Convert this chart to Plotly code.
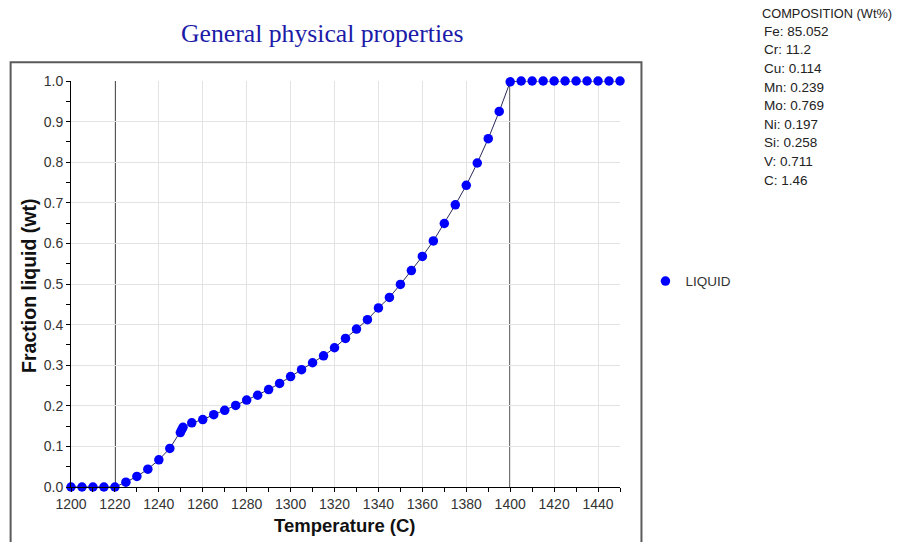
import plotly.graph_objects as go

# ---- data ----
temperature = [1200, 1205, 1210, 1215, 1220, 1225, 1230, 1235, 1240, 1245,
               1249.8, 1250.4, 1251.0, 1255, 1260, 1265, 1270, 1275, 1280, 1285,
               1290, 1295, 1300, 1305, 1310, 1315, 1320, 1325, 1330, 1335,
               1340, 1345, 1350, 1355, 1360, 1365, 1370, 1375, 1380, 1385,
               1390, 1395, 1400, 1405, 1410, 1415, 1420, 1425, 1430, 1435,
               1440, 1445, 1450]
fraction_liquid = [0.0, 0.0, 0.0, 0.0, 0.0, 0.012, 0.026, 0.044, 0.067, 0.095,
                   0.134, 0.141, 0.147, 0.158, 0.166, 0.178, 0.189, 0.201, 0.214, 0.226,
                   0.240, 0.255, 0.272, 0.289, 0.306, 0.323, 0.343, 0.366, 0.389, 0.412,
                   0.441, 0.467, 0.499, 0.533, 0.568, 0.606, 0.649, 0.695, 0.743, 0.798,
                   0.858, 0.925, 0.998, 1.0, 1.0, 1.0, 1.0, 1.0, 1.0, 1.0,
                   1.0, 1.0, 1.0]
solidus_liquidus = [1220, 1400]
series_name = "LIQUID"
title_text = "General physical properties"
x_title = "Temperature (C)"
y_title = "Fraction liquid (wt)"
composition_header = "COMPOSITION (Wt%)"
composition_elements = ["Fe", "Cr", "Cu", "Mn", "Mo", "Ni", "Si", "V", "C"]
composition_values = ["85.052", "11.2", "0.114", "0.239", "0.769", "0.197", "0.258", "0.711", "1.46"]
x_tickvals = list(range(1200, 1441, 20))
y_tickvals = [i / 10 for i in range(11)]

# ---- layout geometry (figure pixels; body margin removed via post_script) ----
W, H = 906, 542
L, T = 70.5, 80.7
pw, ph = 550, 406
R = W - L - pw
B = H - T - ph


def px(xs):
    """screen x -> paper x"""
    return (xs - L) / pw


def py(ys):
    """screen y -> paper y"""
    return (T + ph - ys) / ph


fig = go.Figure()
fig.add_trace(go.Scatter(
    x=temperature, y=fraction_liquid, mode="lines", name=series_name,
    line=dict(color="#2a2a5a", width=1), showlegend=False, cliponaxis=False,
    hoverinfo="skip",
))
fig.add_trace(go.Scatter(
    x=temperature, y=fraction_liquid, mode="markers", name=series_name,
    marker=dict(color="#0000ff", size=9.5, symbol="circle"),
    cliponaxis=False, showlegend=True,
))

shapes = []
for xv in solidus_liquidus:
    shapes.append(dict(type="line", xref="x", yref="y", x0=xv, x1=xv, y0=0, y1=1,
                       line=dict(color="#000000", width=1.5), layer="below"))
# outer frame
shapes.append(dict(type="rect", xref="paper", yref="paper",
                   x0=px(10), x1=px(642), y0=py(62), y1=py(620),
                   line=dict(color="#5a5a5a", width=2), layer="below"))

annotations = [
    dict(text=title_text, xref="paper", yref="paper", x=px(322), y=py(33),
         xanchor="center", yanchor="middle", showarrow=False,
         font=dict(family="Liberation Serif", size=25.7, color="#1b1ba8")),
    dict(text=x_title, xref="paper", yref="paper", x=px(345), y=py(525),
         xanchor="center", yanchor="middle", showarrow=False,
         font=dict(family="Liberation Sans", size=18.5, color="#111111", weight="bold")),
    dict(text=y_title, xref="paper", yref="paper", x=px(29), y=py(286),
         xanchor="center", yanchor="middle", showarrow=False, textangle=-90,
         font=dict(family="Liberation Sans", size=19.5, color="#111111", weight="bold")),
    dict(text=composition_header, xref="paper", yref="paper", x=px(761), y=py(13),
         xanchor="left", yanchor="middle", showarrow=False,
         font=dict(family="Liberation Sans", size=12.8, color="#222222")),
]
for i, (el, val) in enumerate(zip(composition_elements, composition_values)):
    annotations.append(dict(text=f"{el}: {val}", xref="paper", yref="paper",
                            x=px(763), y=py(31 + i * 18.6),
                            xanchor="left", yanchor="middle", showarrow=False,
                            font=dict(family="Liberation Sans", size=13.5, color="#222222")))

fig.update_layout(
    width=W, height=H,
    margin=dict(l=L, r=R, t=T, b=B, pad=0),
    paper_bgcolor="white", plot_bgcolor="white",
    shapes=shapes, annotations=annotations,
    font=dict(family="Liberation Sans", size=13, color="#333333"),
    legend=dict(x=px(646), y=py(281), xanchor="left", yanchor="middle",
                bgcolor="rgba(0,0,0,0)", itemwidth=30, borderwidth=0,
                font=dict(family="Liberation Sans", size=13.5, color="#333333")),
)
fig.update_xaxes(
    range=[1200, 1450], tickvals=x_tickvals, ticktext=[str(v) for v in x_tickvals],
    showgrid=True, gridcolor="#e3e3e3", gridwidth=1, zeroline=False,
    showline=True, linecolor="#000000", linewidth=1,
    ticks="outside", ticklen=4, tickcolor="#000000",
    minor=dict(dtick=10, tick0=1200, ticks="outside", ticklen=4, tickcolor="#000000", showgrid=False),
    tickfont=dict(family="Liberation Sans", size=14, color="#333333"),
)
fig.update_yaxes(
    range=[0, 1], tickvals=y_tickvals, ticktext=[f"{v:.1f}" for v in y_tickvals],
    showgrid=True, gridcolor="#e3e3e3", gridwidth=1, zeroline=False,
    showline=True, linecolor="#000000", linewidth=1,
    ticks="outside", ticklen=4, tickcolor="#000000",
    minor=dict(dtick=0.05, tick0=0, ticks="outside", ticklen=4, tickcolor="#000000", showgrid=False),
    tickfont=dict(family="Liberation Sans", size=14, color="#333333"),
)

fig.write_html(
    "out.html",
    config={"displayModeBar": False},
    post_script="document.body.style.margin='0';document.body.style.overflow='hidden';",
)
